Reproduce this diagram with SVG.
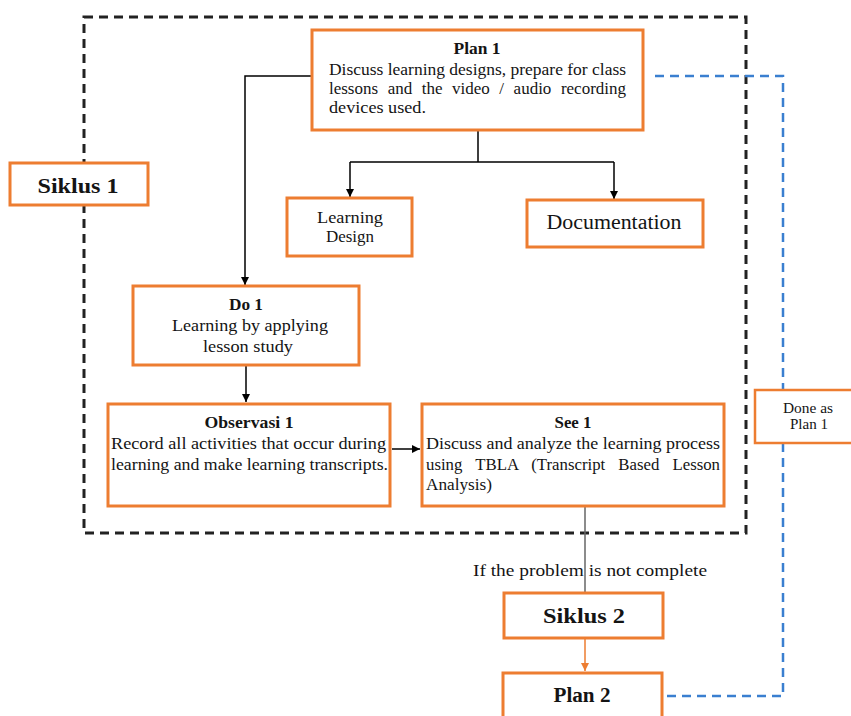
<svg xmlns="http://www.w3.org/2000/svg" width="851" height="716" viewBox="0 0 851 716">
<defs>
<style>
.box{fill:#fff;stroke:#ED7D31;stroke-width:3}
text{font-family:"Liberation Serif","Times New Roman","DejaVu Serif",serif;fill:#141414;font-size:16px}
.b{font-weight:bold}
.c{text-anchor:middle}
.ln{fill:none;stroke:#000;stroke-width:1.5}
.blue{fill:none;stroke:#3A7FD0;stroke-width:2.5;stroke-dasharray:9 6}
.frame{fill:none;stroke:#222;stroke-width:3;stroke-dasharray:9 6}
</style>
<marker id="ah" viewBox="0 0 10 10" refX="10" refY="5" markerWidth="8" markerHeight="8" markerUnits="userSpaceOnUse" orient="auto"><path d="M0,0 L10,5 L0,10 z" fill="#000"/></marker>
<marker id="aho" viewBox="0 0 10 10" refX="10" refY="5" markerWidth="8" markerHeight="8" markerUnits="userSpaceOnUse" orient="auto"><path d="M0,0 L10,5 L0,10 z" fill="#ED7D31"/></marker>
</defs>
<rect width="851" height="716" fill="#fff"/>
<rect id="frame" class="frame" x="84" y="17" width="662" height="516"/>
<g id="connectors">
<path class="ln" d="M312,76 H245 V285" marker-end="url(#ah)"/>
<path class="ln" d="M478,130 V162 M350,162 H614"/>
<path class="ln" d="M350,162 V197" marker-end="url(#ah)"/>
<path class="ln" d="M614,162 V199" marker-end="url(#ah)"/>
<path class="ln" d="M246,365 V402" marker-end="url(#ah)"/>
<path class="ln" d="M392,449 H420" marker-end="url(#ah)"/>
<path d="M585,506 V592" fill="none" stroke="#666" stroke-width="1.5"/>
<path d="M585,638 V671" fill="none" stroke="#ED7D31" stroke-width="1.5" marker-end="url(#aho)"/>
<path class="blue" d="M655,76 H783 V696 H663"/>
</g>
<g id="plan1">
<rect class="box" x="312" y="30" width="331" height="100"/>
<text class="b c" x="477" y="54" style="font-size:17px" textLength="47" lengthAdjust="spacingAndGlyphs">Plan 1</text>
<text x="329" y="75" textLength="297" lengthAdjust="spacingAndGlyphs">Discuss learning designs, prepare for class</text>
<text x="329" y="94" style="word-spacing:5px" textLength="297" lengthAdjust="spacingAndGlyphs">lessons and the video / audio recording</text>
<text x="329" y="113" textLength="97" lengthAdjust="spacingAndGlyphs">devices used.</text>
</g>
<g id="siklus1">
<rect class="box" x="10" y="163" width="138" height="42"/>
<text class="b c" x="78" y="193" style="font-size:22px" textLength="81" lengthAdjust="spacingAndGlyphs">Siklus 1</text>
</g>
<g id="learning-design">
<rect class="box" x="287" y="198" width="125" height="58"/>
<text class="c" x="350" y="223" style="font-size:16px" textLength="66" lengthAdjust="spacingAndGlyphs">Learning</text>
<text class="c" x="350" y="242" style="font-size:16px" textLength="48" lengthAdjust="spacingAndGlyphs">Design</text>
</g>
<g id="documentation">
<rect class="box" x="527" y="200" width="176" height="47"/>
<text class="c" x="614" y="229" style="font-size:20px" textLength="135" lengthAdjust="spacingAndGlyphs">Documentation</text>
</g>
<g id="do1">
<rect class="box" x="133" y="286" width="226" height="79"/>
<text class="b c" x="246" y="310" textLength="34" lengthAdjust="spacingAndGlyphs">Do 1</text>
<text class="c" x="250" y="331" style="font-size:17px" textLength="156" lengthAdjust="spacingAndGlyphs">Learning by applying</text>
<text class="c" x="248" y="352" style="font-size:17px" textLength="90" lengthAdjust="spacingAndGlyphs">lesson study</text>
</g>
<g id="observasi1">
<rect class="box" x="108" y="404" width="282" height="102"/>
<text class="b c" x="249" y="428" style="font-size:17px" textLength="89" lengthAdjust="spacingAndGlyphs">Observasi 1</text>
<text x="111" y="449" textLength="275" lengthAdjust="spacingAndGlyphs">Record all activities that occur during</text>
<text x="111" y="470" textLength="277" lengthAdjust="spacingAndGlyphs">learning and make learning transcripts.</text>
</g>
<g id="see1">
<rect class="box" x="422" y="404" width="302" height="102"/>
<text class="b c" x="573" y="428" style="font-size:17px" textLength="37" lengthAdjust="spacingAndGlyphs">See 1</text>
<text x="426" y="449" textLength="294" lengthAdjust="spacingAndGlyphs">Discuss and analyze the learning process</text>
<text x="426" y="470" style="word-spacing:8.5px" textLength="294" lengthAdjust="spacingAndGlyphs">using TBLA (Transcript Based Lesson</text>
<text x="426" y="490" textLength="66" lengthAdjust="spacingAndGlyphs">Analysis)</text>
</g>
<g id="done">
<rect class="box" x="755" y="390" width="100" height="53" style="stroke-width:2.5"/>
<text class="c" x="808" y="413" style="font-size:14px" textLength="50" lengthAdjust="spacingAndGlyphs">Done as</text>
<text class="c" x="809" y="429" style="font-size:14px" textLength="38" lengthAdjust="spacingAndGlyphs">Plan 1</text>
</g>
<text x="473" y="576" style="font-size:17px" textLength="234" lengthAdjust="spacingAndGlyphs">If the problem is not complete</text>
<g id="siklus2">
<rect class="box" x="504" y="593" width="159" height="45"/>
<text class="b c" x="584" y="623" style="font-size:22px" textLength="82" lengthAdjust="spacingAndGlyphs">Siklus 2</text>
</g>
<g id="plan2">
<rect class="box" x="503" y="673" width="159" height="50"/>
<text class="b c" x="582" y="702" style="font-size:20px" textLength="57" lengthAdjust="spacingAndGlyphs">Plan 2</text>
</g>
</svg>
